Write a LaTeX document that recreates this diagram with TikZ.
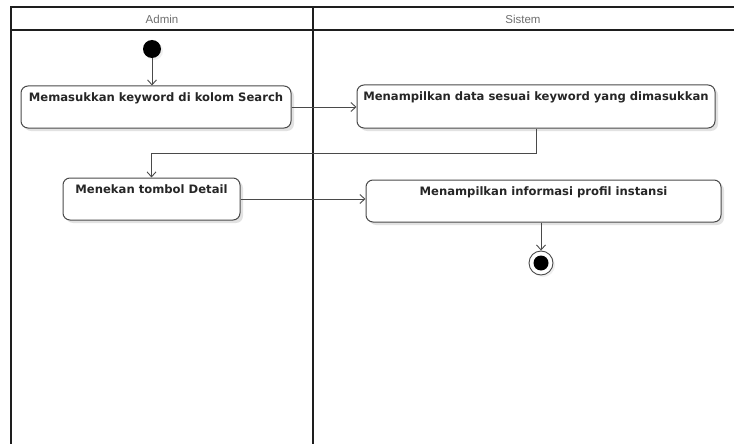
\documentclass[tikz,border=0pt]{standalone}
\usepackage{fontspec}
\newfontfamily\actfont{DejaVu Sans}
\newfontfamily\lanefont{Liberation Sans}
\usetikzlibrary{arrows.meta,shadows,calc}
\definecolor{edgegray}{HTML}{4A4A4A}
\definecolor{lanegray}{HTML}{1E1E1E}
\definecolor{headtext}{HTML}{6E6E6E}
\begin{document}
\begin{tikzpicture}[x=1pt,y=-1pt,
  lane/.style={draw=lanegray, line width=1.6pt},
  lanehead/.style={font=\lanefont\fontsize{11.5}{13}\selectfont, text=headtext},
  action/.style={draw=edgegray, line width=1pt, fill=white, rounded corners=7pt,
    font=\actfont\bfseries\fontsize{11.6}{14}\selectfont, text=black!85,
    inner xsep=2pt, inner ysep=2pt, text height=13pt,
    drop shadow={shadow xshift=3pt, shadow yshift=-3pt, fill=black!14, opacity=0.8}},
  flow/.style={draw=edgegray, line width=0.9pt, -{Straight Barb[length=5pt,width=9pt]}},
  startdot/.style={circle, fill=black, inner sep=0pt, minimum size=18pt,
    drop shadow={shadow xshift=2pt, shadow yshift=-2pt, fill=black!12}},
  enddot/.style={circle, draw=edgegray, line width=0.9pt, fill=white, inner sep=0pt,
    minimum size=24pt, drop shadow={shadow xshift=2pt, shadow yshift=-2pt, fill=black!12}},
]
\useasboundingbox (0,0) rectangle (734,444);

% swimlane frame
\draw[lane] (11,444) -- (11,7) -- (734,7);
\draw[lane] (11,30) -- (734,30);
\draw[lane] (313,7) -- (313,444);
\node[lanehead] (hadmin) at (162,19) {Admin};
\node[lanehead] (hsistem) at (523,19) {Sistem};

% activities
\node[startdot] (start) at (152,49) {};
\node[action, minimum width=270pt, text depth=25pt] (search) at (156,107)
  {Memasukkan keyword di kolom Search};
\node[action, minimum width=358pt, text depth=26pt] (result) at (536,106.5)
  {Menampilkan data sesuai keyword yang dimasukkan};
\node[action, minimum width=177pt, text depth=25pt] (detail) at (151.5,199)
  {Menekan tombol Detail};
\node[action, minimum width=355pt, text depth=25pt] (profile) at (543.5,201)
  {Menampilkan informasi profil instansi};
\node[enddot] (finish) at (541,263) {};
\node[circle, fill=black, inner sep=0pt, minimum size=15pt] (finishcore) at (finish) {};

% control flow
\draw[flow] (start) -- (start |- search.north);
\draw[flow] (search.east) -- (search.east -| result.west);
\draw[flow] (result.south) -- ++(0,25) -| (detail.north);
\draw[flow] (detail.east) -- (detail.east -| profile.west);
\draw[flow] (finish |- profile.south) -- (finish.north);
\end{tikzpicture}
\end{document}
